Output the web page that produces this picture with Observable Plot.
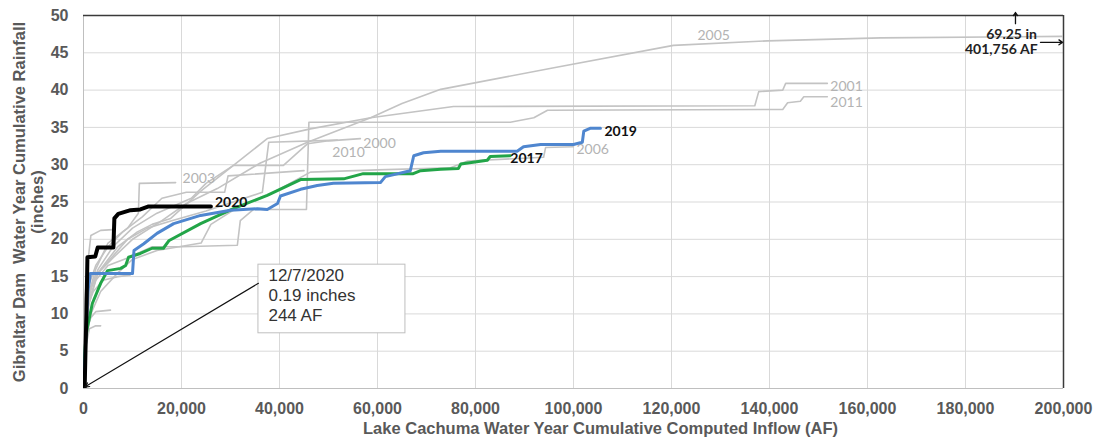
<!DOCTYPE html>
<html>
<head>
<meta charset="utf-8">
<script src="https://cdn.jsdelivr.net/npm/d3@7"></script>
<script src="https://cdn.jsdelivr.net/npm/@observablehq/plot@0.6"></script>
<style>
  html, body { margin: 0; padding: 0; background: #fff; }
  #chart svg { display: block; }
</style>
</head>
<body>
<div id="chart"></div>
<script>
// Water-year tracks: [cumulative computed inflow (AF), cumulative rainfall (inches)]
const wy2020 = [[0,0],[244,0.19],[400,5],[600,10],[800,17.6],[2400,17.7],[2900,18.9],[6100,18.9],[6300,22.8],[7100,23.4],[9600,23.9],[11600,24.0],[13300,24.4],[26000,24.4]];
const wy2019 = [[0,0],[300,4],[600,9],[900,13],[1400,15.4],[10000,15.4],[10300,18.5],[12300,19.4],[15000,20.8],[18400,22.1],[23900,23.2],[30000,23.9],[35500,24.1],[37500,24.0],[39600,24.8],[40200,25.8],[44300,26.7],[47700,27.2],[51000,27.5],[60600,27.6],[61600,28.4],[66700,29.2],[67400,31.2],[69400,31.6],[72900,31.8],[88500,31.8],[89800,32.4],[93300,32.7],[100000,32.7],[101800,33.0],[102100,34.5],[103500,34.9],[105500,34.9]];
const wy2017 = [[0,0],[200,4],[500,7],[800,8.2],[1800,11.4],[3500,14.1],[4900,15.8],[7600,16.1],[8600,16.5],[9200,17.6],[11600,18.1],[14000,18.8],[16300,18.8],[17400,19.8],[23900,22.1],[30600,24.1],[37500,25.9],[44300,28.0],[53100,28.1],[57100,28.8],[67300,28.8],[68800,29.2],[72900,29.4],[76500,29.5],[77000,30.1],[82400,30.6],[83000,31.1],[87100,31.2]];

// Earlier water years, drawn in grey (2005 runs off the chart to 401,756 AF / 69.25 in)
const wy2005 = [[0,0],[300,6],[1200,12],[3000,15.5],[6000,17.5],[10000,20],[16000,22.5],[21000,24.8],[27300,26.8],[36000,30.2],[45700,33.0],[58600,36.3],[65000,38.2],[72900,40.1],[96000,43.0],[120400,46.0],[139600,46.6],[162700,47.0],[200000,47.2],[401756,69.25]];
const wy2001 = [[0,0],[200,5],[600,10],[1500,13.5],[3500,16],[7000,19],[11000,21],[14000,22],[17800,22.8],[24000,26.5],[30600,29.9],[37500,33.5],[46300,34.8],[58600,36.3],[75500,37.8],[137000,37.9],[137800,39.8],[142700,40.0],[143300,40.9],[151800,40.9]];
const wy2011 = [[0,0],[400,7],[1000,11],[2500,14.5],[5000,16.5],[9000,17.5],[14000,19.0],[20000,19.0],[31400,19.2],[32000,22.5],[34700,24.0],[45500,24.0],[46000,35.7],[87100,35.7],[91900,36.3],[94700,37.3],[142700,37.4],[143700,38.3],[146300,38.5],[147000,39.1],[151800,39.1]];
const wy2010 = [[0,0],[200,7],[900,12],[2500,15.2],[5000,17],[9000,20],[13000,21.5],[18000,22.5],[25000,23.8],[36500,26.3],[37800,33.0],[51800,33.3]];
const wy2000 = [[0,0],[400,9],[1200,13],[3000,16],[6000,19],[10000,21.5],[15000,23.5],[22000,25.5],[25000,27.5],[30600,29.9],[40800,29.9],[45700,32.8],[50000,33.2],[56500,33.5]];
const wy2003 = [[0,0],[300,8],[1000,12.5],[2500,16],[5000,19.5],[9000,21.5],[11200,23.5],[11400,27.5],[18800,27.6]];
const wy2006 = [[0,0],[400,6],[1500,10],[3500,13],[7000,15.5],[10000,17.3],[15000,18.5],[24000,19.5],[26000,22],[32000,24.5],[38000,26.0],[46300,29.0],[60000,29.3],[74900,29.6],[78400,30.5],[93900,31.0],[94300,32.3],[100000,32.4]];
const wyDryA = [[0,0],[150,6],[500,11],[1200,14],[2500,16.5],[5000,19],[8000,21],[12000,23],[16000,25.5],[21000,26.3],[28800,26.3],[29500,28.5],[45000,29.2]];
const wyDryB = [[0,0],[200,4],[700,8],[1500,9.5],[2500,10.3],[5500,10.5]];
const wyDryC = [[0,0],[300,5],[1200,8],[2500,8.4],[3500,8.4]];
const wyDryD = [[0,0],[200,7],[800,11],[2000,13],[4000,14.5],[7000,15.0],[9500,15.2]];
const wyDryE = [[0,0],[300,12],[900,17],[1500,20.5],[3500,21.2],[6000,21.3]];

const greyYears = [
  ["2005", wy2005], ["2001", wy2001], ["2011", wy2011], ["2010", wy2010],
  ["2000", wy2000], ["2003", wy2003], ["2006", wy2006],
  ["a", wyDryA], ["b", wyDryB], ["c", wyDryC], ["d", wyDryD], ["e", wyDryE]
];
const featuredYears = [["2017", wy2017, "#22a548", 3], ["2019", wy2019, "#4f86cf", 3], ["2020", wy2020, "#000000", 4]];

// Axis ticks
const xTicks = [0, 20000, 40000, 60000, 80000, 100000, 120000, 140000, 160000, 180000, 200000];
const yTicks = [0, 5, 10, 15, 20, 25, 30, 35, 40, 45, 50];

// Callout for the current year's first reading
const firstReading = {date: "12/7/2020", inches: 0.19, af: 244};
// Off-scale total for water year 2005
const offscale2005 = {inches: 69.25, af: 401756};

const toRows = (name, pts) => pts.map(([af, inches]) => ({year: name, af, inches}));
const greyRows = greyYears.flatMap(([n, p]) => toRows(n, p));

// Label placement for the grey years: which point the label hangs off and its nudge
const greyLabelSpec = {
  "2005": {at: 15, dx: 24, dy: -10},
  "2001": {at: -1, dx: 3, dy: 3},
  "2011": {at: -1, dx: 3, dy: 6},
  "2010": {at: -1, dx: -5, dy: 12},
  "2000": {at: -1, dx: 3, dy: 5},
  "2003": {at: -1, dx: 7, dy: -4},
  "2006": {at: -1, dx: 3, dy: 3}
};
const pick = (pts, i) => pts[i < 0 ? pts.length + i : i];
const greyLabelMarks = greyYears
  .filter(([n]) => greyLabelSpec[n])
  .map(([n, p]) => {
    const s = greyLabelSpec[n];
    const [af, inches] = pick(p, s.at);
    return Plot.text([{af, inches, label: n}], {
      x: "af", y: "inches", text: "label", textAnchor: "start",
      dx: s.dx, dy: s.dy, fill: "#b3b3b3", fontSize: 14, fontWeight: "normal",
      fontFamily: "Lato, 'Open Sans', sans-serif"
    });
  });

const featuredLabelSpec = {"2020": {dx: 4, dy: -4}, "2019": {dx: 4, dy: 3}, "2017": {dx: 0, dy: 3}};

const fmt = d3.format(",");
const boxLeft = 35700, boxRight = 65700, boxTop = 16.6, boxBottom = 7.4;

const chart = Plot.plot({
  width: 1097,
  height: 438,
  marginLeft: 83,
  marginRight: 34,
  marginTop: 15,
  marginBottom: 50,
  style: {
    fontFamily: "'Liberation Sans', Arial, sans-serif",
    fontSize: "16px",
    fontWeight: "bold",
    color: "#595959",
    background: "#ffffff",
    overflow: "visible"
  },
  x: {domain: [0, 200000]},
  y: {domain: [0, 50]},
  marks: [
    Plot.gridX(xTicks.slice(1, -1), {stroke: "#d9d9d9", strokeOpacity: 1, strokeWidth: 1}),
    Plot.gridY(yTicks.slice(1, -1), {stroke: "#d9d9d9", strokeOpacity: 1, strokeWidth: 1}),
    Plot.axisX(xTicks, {tickSize: 0, tickPadding: 14, tickFormat: fmt, label: null, fontSize: 16}),
    Plot.axisY(yTicks, {tickSize: 0, tickPadding: 15, label: null, fontSize: 16}),
    Plot.text(["Lake Cachuma Water Year Cumulative Computed Inflow (AF)"], {
      frameAnchor: "bottom", dx: 27, dy: 40, lineAnchor: "middle",
      fill: "#595959", fontSize: 16.5
    }),
    Plot.text(["Gibraltar Dam\u00a0 Water Year Cumulative Rainfall\n(inches)"], {
      frameAnchor: "left", dx: -55, rotate: -90, textAnchor: "middle", lineAnchor: "middle",
      lineHeight: 1.1, fill: "#595959", fontSize: 16.5
    }),
    // axis lines and frame
    Plot.ruleY([0], {stroke: "#bfbfbf", strokeWidth: 1}),
    Plot.ruleX([0], {stroke: "#bfbfbf", strokeWidth: 1}),
    Plot.ruleY([50], {stroke: "#3a3a3a", strokeWidth: 1.5}),
    Plot.ruleX([200000], {stroke: "#3a3a3a", strokeWidth: 1.5}),
    // grey history
    Plot.line(greyRows, {x: "af", y: "inches", z: "year", stroke: "#c3c3c3", strokeWidth: 1.6, clip: true}),
    ...greyLabelMarks,
    // featured years
    ...featuredYears.map(([n, p, c, w]) =>
      Plot.line(toRows(n, p), {x: "af", y: "inches", stroke: c, strokeWidth: w, strokeLinejoin: "round", clip: true})),
    ...featuredYears.map(([n, p]) => {
      const [af, inches] = p[p.length - 1];
      const s = featuredLabelSpec[n];
      return Plot.text([{af, inches, label: n}], {
        x: "af", y: "inches", text: "label", textAnchor: "start", dx: s.dx, dy: s.dy,
        fill: "#111", fontSize: 14, fontWeight: "bold", fontFamily: "Lato, 'Open Sans', sans-serif"
      });
    }),
    // callout box
    Plot.rect([{}], {x1: () => boxLeft, x2: () => boxRight, y1: () => boxBottom, y2: () => boxTop,
      fill: "#ffffff", stroke: "#bfbfbf", strokeWidth: 1}),
    Plot.text([`${firstReading.date}\n${firstReading.inches} inches\n${firstReading.af} AF`], {
      x: boxLeft, y: (boxTop + boxBottom) / 2 + 0.55, dx: 10, textAnchor: "start", lineAnchor: "middle",
      lineHeight: 20 / 17, fontSize: 17, fontWeight: "normal", fill: "#333333",
      fontFamily: "'Liberation Sans', Arial, sans-serif"
    }),
    Plot.arrow([firstReading], {
      x1: () => boxLeft, y1: () => 14.1, x2: "af", y2: "inches",
      stroke: "#111", strokeWidth: 1.1, headLength: 7, headAngle: 50
    }),
    // off-scale marker for 2005
    Plot.text([`${offscale2005.inches} in`], {
      x: 190000, y: 47.5, textAnchor: "middle", lineAnchor: "middle",
      fill: "#222", fontSize: 14, fontWeight: "bold", fontFamily: "Lato, 'Open Sans', sans-serif", dx: -3
    }),
    Plot.text([`${fmt(offscale2005.af)} AF`], {
      x: 187300, y: 45.4, textAnchor: "middle", lineAnchor: "middle",
      fill: "#222", fontSize: 14, fontWeight: "bold", fontFamily: "Lato, 'Open Sans', sans-serif"
    }),
    Plot.arrow([{}], {x1: () => 190200, y1: () => 48.9, x2: () => 190200, y2: () => 50.4,
      stroke: "#111", strokeWidth: 1.3, headLength: 5, headAngle: 70}),
    Plot.arrow([{}], {x1: () => 195300, y1: () => 46.4, x2: () => 199800, y2: () => 46.4,
      stroke: "#111", strokeWidth: 1.3, headLength: 5, headAngle: 70})
  ]
});

document.getElementById("chart").appendChild(chart);
</script>
</body>
</html>
